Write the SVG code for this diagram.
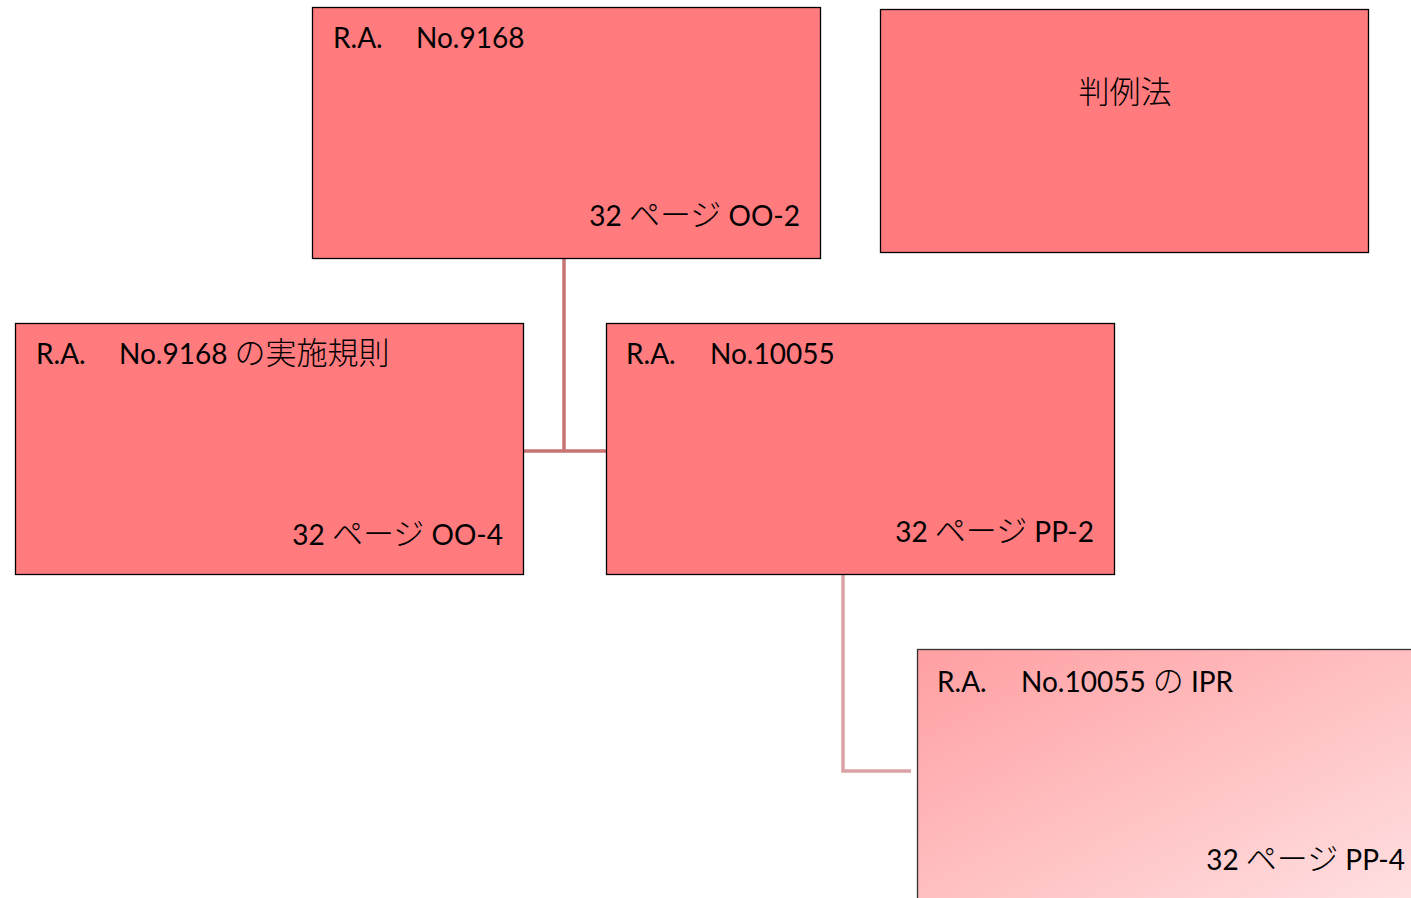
<svg xmlns="http://www.w3.org/2000/svg" width="1411" height="898" viewBox="0 0 1411 898">
<style>
.box{fill:#ff7b7e;stroke:#000;stroke-width:1.3}
.t{font-family:Lato,"Noto Sans CJK JP",sans-serif;font-size:28px;fill:#000}
.j{font-family:"Noto Sans CJK JP",sans-serif;font-size:31px;font-weight:300}
.e{text-anchor:end}
.c1{fill:none;stroke:#c87474;stroke-width:3.5}
.c2{fill:none;stroke:#dba3a5;stroke-width:3.5}
</style>
<defs>
<linearGradient id="g5" x1="0" y1="0" x2="1" y2="1">
<stop offset="0" stop-color="#ff9fa2"/>
<stop offset="1" stop-color="#ffe2e3"/>
</linearGradient>
</defs>
<g id="connectors">
<path class="c1" d="M564,258 V451 M523,451 H606"/>
<path class="c2" d="M843,574 V771 H911"/>
</g>
<g id="node-ra9168">
<rect class="box" x="312.5" y="7.5" width="508" height="251"/>
<text class="t" y="48"><tspan x="333">R.A.</tspan><tspan x="416">No.9168</tspan></text>
<text class="t e" x="800" y="226">32 <tspan class="j">ページ</tspan> OO-2</text>
</g>
<g id="node-hanreiho">
<rect class="box" x="880.5" y="9.5" width="488" height="243"/>
<text class="t j" x="1125" y="103" text-anchor="middle">判例法</text>
</g>
<g id="node-ra9168-irr">
<rect class="box" x="15.5" y="323.5" width="508" height="251"/>
<text class="t" y="364"><tspan x="36">R.A.</tspan><tspan x="119">No.9168 </tspan><tspan class="j">の実施規則</tspan></text>
<text class="t e" x="503" y="545">32 <tspan class="j">ページ</tspan> OO-4</text>
</g>
<g id="node-ra10055">
<rect class="box" x="606.5" y="323.5" width="508" height="251"/>
<text class="t" y="364"><tspan x="626">R.A.</tspan><tspan x="710">No.10055</tspan></text>
<text class="t e" x="1094" y="542">32 <tspan class="j">ページ</tspan> PP-2</text>
</g>
<g id="node-ra10055-ipr">
<rect x="917.5" y="649.5" width="508" height="260" fill="url(#g5)" stroke="#333" stroke-width="1.3"/>
<text class="t" y="692"><tspan x="937">R.A.</tspan><tspan x="1021">No.10055 </tspan><tspan class="j">の</tspan> IPR</text>
<text class="t e" x="1405" y="870">32 <tspan class="j">ページ</tspan> PP-4</text>
</g>
</svg>
